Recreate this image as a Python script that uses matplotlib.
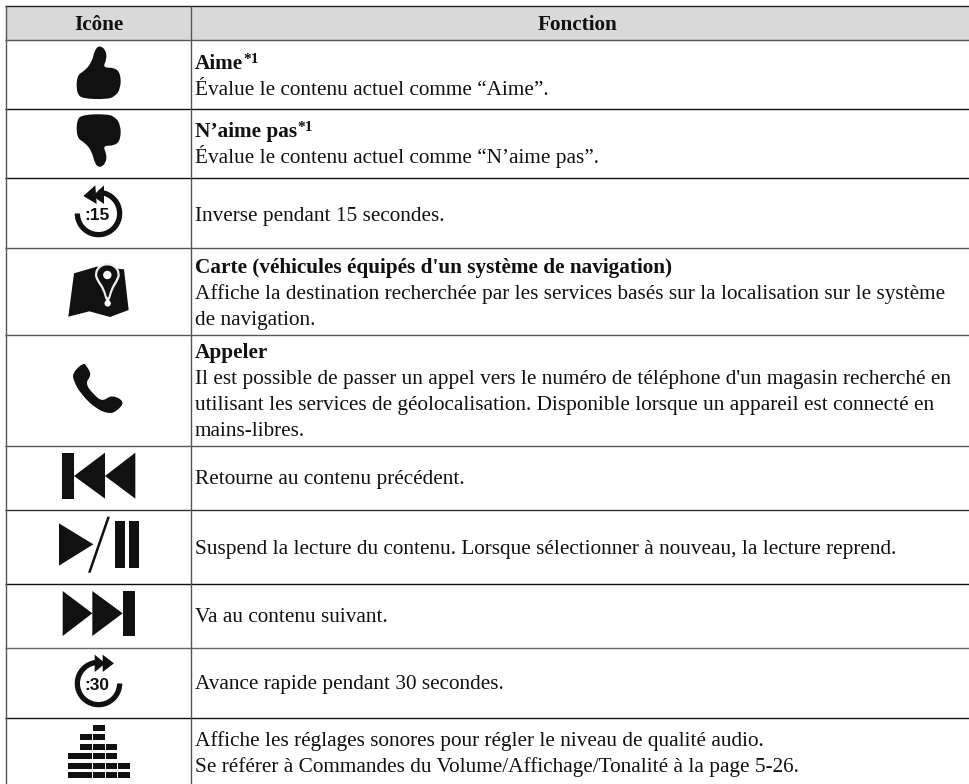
import matplotlib as mpl
mpl.use('agg')
import matplotlib.pyplot as plt
from matplotlib.patches import Polygon, Rectangle, Wedge, Circle
from matplotlib.path import Path
from matplotlib.patches import PathPatch

SERIF = 'Liberation Serif'
SANS = 'Liberation Sans'

header = ['Icône', 'Fonction']

# title line of each row (bold), then plain lines
row_titles = ['Aime', "N’aime pas", None, "Carte (véhicules équipés d'un système de navigation)", 'Appeler',
              None, None, None, None, None]
row_marks = ['*1', '*1', None, None, None, None, None, None, None, None]
row_lines = [
    ['Évalue le contenu actuel comme “Aime”.'],
    ['Évalue le contenu actuel comme “N’aime pas”.'],
    ['Inverse pendant 15 secondes.'],
    ['Affiche la destination recherchée par les services basés sur la localisation sur le système',
     'de navigation.'],
    ["Il est possible de passer un appel vers le numéro de téléphone d'un magasin recherché en",
     'utilisant les services de géolocalisation. Disponible lorsque un appareil est connecté en',
     'mains-libres.'],
    ['Retourne au contenu précédent.'],
    ['Suspend la lecture du contenu. Lorsque sélectionner à nouveau, la lecture reprend.'],
    ['Va au contenu suivant.'],
    ['Avance rapide pendant 30 secondes.'],
    ['Affiche les réglages sonores pour régler le niveau de qualité audio.',
     'Se référer à Commandes du Volume/Affichage/Tonalité à la page 5-26.'],
]

# table grid, in image pixels
rule_y = [5.5, 40, 109, 178, 248, 334.5, 445.5, 509.5, 584, 648, 718]
rule_col = ['#222222', '#555555', '#111111', '#111111', '#555555', '#555555', '#555555', '#333333', '#111111',
            '#666666', '#111111']
col_x = [6.5, 191]
first_base = [69, 137, 221, 272.7, 358, 484, 554, 622.5, 689.5, 746]
LINE = 25.9
FS = 15.35

fig = plt.figure(figsize=(9.7, 7.84), dpi=100)
ax = fig.add_axes([0, 0, 1, 1])
ax.set_xlim(0, 970)
ax.set_ylim(784, 0)
ax.axis('off')


def zoomed(pts, x0=0, y0=0):
    return [(x0 + x / 3, y0 + y / 3) for x, y in pts]


def shape(pts, x0=0, y0=0, color='#111111'):
    ax.add_patch(Polygon(zoomed(pts, x0, y0), closed=True, fc=color, ec='none'))


def smooth(pts, x0=0, y0=0, color='#111111'):
    # closed curve through midpoints, keeps the blobby look of the icons
    p = zoomed(pts, x0, y0)
    mid = [((p[i][0] + p[(i + 1) % len(p)][0]) / 2, (p[i][1] + p[(i + 1) % len(p)][1]) / 2) for i in range(len(p))]
    verts = [mid[-1]]
    codes = [Path.MOVETO]
    for i in range(len(p)):
        verts += [p[i], mid[i]]
        codes += [Path.CURVE3, Path.CURVE3]
    ax.add_patch(PathPatch(Path(verts, codes), fc=color, ec='none'))


thumb = [(298, 136), (318, 150), (320, 178), (308, 203), (345, 203), (362, 222), (362, 265), (345, 290), (318, 298),
         (250, 296), (230, 282), (230, 226), (255, 212), (276, 185), (284, 150)]


def thumb_icon(flip=False):
    if flip:
        smooth([(x, 640 - y) for x, y in thumb])
    else:
        smooth(thumb)


def clock_icon(cx, cy, t1, t2, arrows, y0, label):
    ax.add_patch(Wedge((cx, cy), 23.8, t1, t2, width=5.3, fc='#111111', ec='none'))
    for a in arrows:
        shape(a, 0, y0)
    ax.text(cx - 1.5, cy + 2, label, family=SANS, weight='bold', fontsize=12.5, ha='center', va='center',
            color='#111111')


def map_icon():
    shape([(222, 40), (290, 20), (372, 28), (386, 150), (330, 171), (268, 154), (205, 170)], 0, 260)
    smooth([(322, 8), (348, 15), (362, 40), (354, 64), (338, 88), (328, 125), (318, 125), (308, 88), (290, 64),
            (282, 40), (296, 15)], 0, 260, '#eeeeee')
    smooth([(322, 15), (342, 20), (355, 40), (348, 60), (332, 85), (323, 122), (314, 85), (296, 60), (289, 40),
            (302, 20)], 0, 260)
    ax.add_patch(Circle((322 / 3, 260 + 45 / 3), 4.2, fc='white', ec='none'))
    ax.add_patch(Circle((323 / 3, 260 + 130 / 3), 3.2, fc='white', ec='none'))


def phone_icon():
    smooth([(218, 338), (250, 308), (260, 318), (275, 345), (255, 370), (282, 405), (308, 425), (335, 404), (375, 425),
            (352, 452), (330, 462), (290, 448), (245, 405), (220, 362)], 0, 260)


def rewind_icon():
    shape([(186, 579), (222, 579), (222, 716), (186, 716)], 0, 260)
    shape([(222, 648), (315, 578), (315, 716)], 0, 260)
    shape([(315, 648), (406, 578), (406, 716)], 0, 260)


def play_pause_icon():
    shape([(177, 10), (280, 73), (177, 137)], 0, 520)
    shape([(322, -10), (330, -10), (272, 158), (264, 158)], 0, 520)
    shape([(345, 3), (375, 3), (375, 143), (345, 143)], 0, 520)
    shape([(387, 3), (417, 3), (417, 143), (387, 143)], 0, 520)


def forward_icon():
    shape([(188, 213), (277, 280), (188, 348)], 0, 520)
    shape([(277, 213), (368, 280), (277, 348)], 0, 520)
    shape([(368, 213), (405, 213), (405, 348), (368, 348)], 0, 520)


# bricks of the equalizer icon: row -> columns that are lit
eq_rows = [[2], [1, 2], [1, 2, 3], [0, 1, 2, 3], [0, 1, 2, 3, 4], [0, 1, 2, 3, 4]]


def eq_icon():
    col_left = [204, 241, 279, 317, 355]
    row_top = [615, 642, 672, 699, 729, 757]
    for r, cols in enumerate(eq_rows):
        for c in cols:
            x, y = zoomed([(col_left[c], row_top[r])], 0, 520)[0]
            ax.add_patch(Rectangle((x, y), 35 / 3, 17 / 3, fc='#111111', ec='none'))


# header band
ax.add_patch(Rectangle((col_x[0], rule_y[0]), 970 - col_x[0], rule_y[1] - rule_y[0], fc='#d9d9d9', ec='none'))

for y, c in zip(rule_y, rule_col):
    ax.plot([5, 970], [y, y], color=c, lw=1.0, solid_capstyle='butt')
for x in col_x:
    ax.plot([x, x], [rule_y[0], 784], color='#555555', lw=1.0, solid_capstyle='butt')

ax.text(98.5, 30, header[0], family=SERIF, weight='bold', fontsize=FS, ha='center', va='baseline', color='#111111')
ax.text(578, 30, header[1], family=SERIF, weight='bold', fontsize=FS, ha='center', va='baseline', color='#111111')

renderer = fig.canvas.get_renderer()
for base, title, mark, lines in zip(first_base, row_titles, row_marks, row_lines):
    if title:
        t = ax.text(195, base, title, family=SERIF, weight='bold', fontsize=FS, va='baseline', color='#111111')
        if mark:
            right = t.get_window_extent(renderer).x1
            ax.text(right, base - 6, mark, family=SERIF, weight='bold', fontsize=FS * 0.72, va='baseline',
                    color='#111111')
        base += LINE
    for line in lines:
        ax.text(195, base, line, family=SERIF, fontsize=FS, va='baseline', color='#111111')
        base += LINE

thumb_icon()
thumb_icon(flip=True)
clock_icon(98.5, 213.5, 270, 540,
           [[(250, 588), (286, 556), (290, 612)], [(278, 588), (312, 556), (312, 612)]], 0, ':15')
clock_icon(98.5, 683.5, 0, 270,
           [[(342, 430), (308, 404), (308, 456)], [(316, 430), (284, 404), (284, 456)]], 520, ':30')
map_icon()
phone_icon()
rewind_icon()
play_pause_icon()
forward_icon()
eq_icon()

fig.savefig('out.png', dpi=100)
